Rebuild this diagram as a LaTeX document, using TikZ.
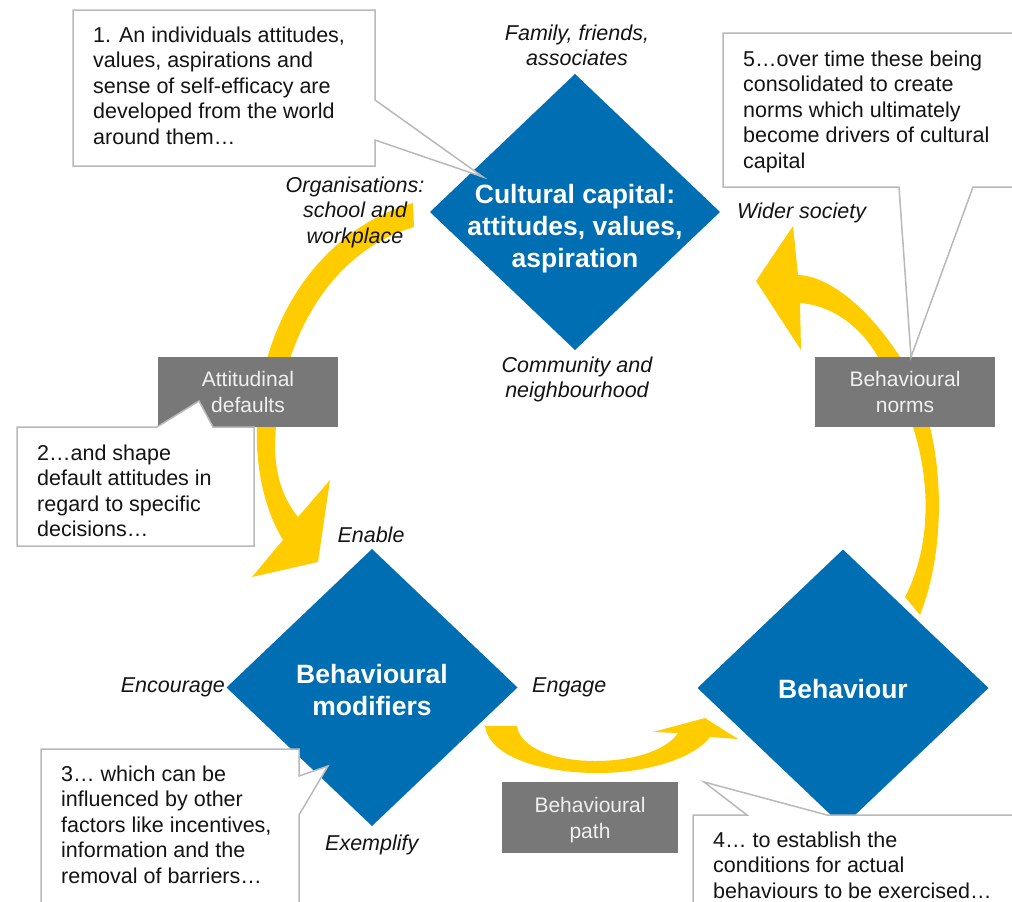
\documentclass[tikz,border=0pt]{standalone}
\usepackage{fontspec}
\setmainfont{Liberation Sans}
\usetikzlibrary{shapes.geometric}
\definecolor{cblue}{RGB}{0,110,178}
\definecolor{cyellow}{RGB}{255,204,0}
\definecolor{cgray}{RGB}{120,120,120}
\definecolor{cline}{RGB}{185,185,185}
\definecolor{ctext}{RGB}{20,20,20}
\begin{document}
\begin{tikzpicture}[x=1pt,y=-1pt,
  dia/.style={shape=diamond, fill=cblue, inner sep=0pt, outer sep=0pt},
  diatext/.style={text=white, font=\fontsize{26.5}{32}\selectfont\bfseries, align=center, anchor=north, inner sep=0pt},
  gbox/.style={fill=cgray, text=white!94!black, font=\fontsize{21}{26}\selectfont, align=center, inner sep=0pt, outer sep=0pt, text depth=0pt},
  callout/.style={fill=white, draw=cline, line width=1.5pt, line join=miter},
  ctxt/.style={text=ctext, font=\fontsize{21.5}{25.5}\selectfont, align=left, anchor=north west, inner sep=0pt},
  lbl/.style={text=ctext, font=\fontsize{21.5}{25.5}\selectfont\itshape, align=center, anchor=north, inner sep=0pt},
  band/.style={fill=cyellow}
]
\clip (0,0) rectangle (1012,902);
\fill[white] (0,0) rectangle (1012,902);

% ---- yellow curved arrows ----
% A: from Cultural capital round to Behavioural modifiers
\fill[band] (413,203) .. controls (320,230) and (262,320) .. (257,420)
  .. controls (255,470) and (265,510) .. (283,540)
  -- (252,577) -- (318,562) -- (330,480) -- (298,517)
  .. controls (282,497) and (272,470) .. (276,427)
  .. controls (285,330) and (335,250) .. (414,227) -- cycle;
% B: behavioural path
\fill[band] (485,726) .. controls (490,760) and (550,773) .. (597,773)
  .. controls (650,773) and (695,757) .. (710,737)
  -- (738,739) -- (705,718) -- (653,732) -- (678,733)
  .. controls (665,752) and (630,761) .. (595,761)
  .. controls (555,761) and (520,748) .. (517,726) -- cycle;
% C: behavioural norms
\fill[band] (920,615) .. controls (950,540) and (945,420) .. (900,357)
  .. controls (870,310) and (830,276) .. (798,275)
  -- (793,226) -- (756,281) -- (801,350) -- (800,303)
  .. controls (830,305) and (860,325) .. (878,357)
  .. controls (930,430) and (940,530) .. (905,597) -- cycle;

% ---- grey boxes ----
\node[gbox, minimum width=180, minimum height=70] (ad) at (248,392) {Attitudinal\\defaults};
\node[gbox, minimum width=180, minimum height=70] (bn) at (905,392) {Behavioural\\norms};
\node[gbox, minimum width=176, minimum height=71] (bp) at (590,817.5) {Behavioural\\path};

% ---- diamonds ----
\node[dia, minimum width=290, minimum height=276] (cc) at (575,212) {};
\node[dia, minimum width=291, minimum height=277] (bm) at (372,687.5) {};
\node[dia, minimum width=291, minimum height=277] (bh) at (843,688) {};
\node[diatext] (cct) at (575,180.6) {\strut Cultural capital:\\attitudes, values,\\aspiration};
\node[diatext] (bmt) at (372,660.6) {\strut Behavioural\\modifiers};
\node[diatext] (bht) at (843,675.6) {\strut Behaviour};

% ---- callouts ----
\draw[callout] (73,10) -- (375,10) -- (375,100) -- (483,177) -- (375,140) -- (375,166) -- (73,166) -- cycle;
\draw[callout] (17,427) -- (157,427) -- (199,401) -- (213,427) -- (254,427) -- (254,546) -- (17,546) -- cycle;
\draw[callout] (41,749) -- (299,749) -- (299,776) -- (328,766) -- (299,815) -- (299,915) -- (41,915) -- cycle;
\draw[callout] (693,815) -- (747,815) -- (704,782) -- (827,815) -- (1020,815) -- (1020,915) -- (693,915) -- cycle;
\draw[callout] (723,33) -- (1020,33) -- (1020,187) -- (973,187) -- (911,357) -- (899,187) -- (723,187) -- cycle;

\node[ctxt] (t1) at (93,24.15) {\strut 1. An individuals attitudes,\\values, aspirations and\\sense of self-efficacy are\\developed from the world\\around them…};
\node[ctxt] (t2) at (37,442.15) {\strut 2…and shape\\default attitudes in\\regard to specific\\decisions…};
\node[ctxt] (t3) at (61,763.15) {\strut 3… which can be\\influenced by other\\factors like incentives,\\information and the\\removal of barriers…};
\node[ctxt] (t4) at (713,829.15) {\strut 4… to establish the\\conditions for actual\\behaviours to be exercised…};
\node[ctxt] (t5) at (743,48.15) {\strut 5…over time these being\\consolidated to create\\norms which ultimately\\become drivers of cultural\\capital};

% ---- italic labels ----
\node[lbl] (l1) at (577,22.15) {\strut Family, friends,\\associates};
\node[lbl] (l2) at (355,174.15) {\strut Organisations:\\school and\\workplace};
\node[lbl, anchor=north west] (l3) at (737,200.15) {\strut Wider society};
\node[lbl] (l4) at (577,354.15) {\strut Community and\\neighbourhood};
\node[lbl] (l5) at (371,524.15) {\strut Enable};
\node[lbl, anchor=north east] (l6) at (225,674.15) {\strut Encourage};
\node[lbl, anchor=north west] (l7) at (532,674.15) {\strut Engage};
\node[lbl, anchor=north west] (l8) at (325,832.15) {\strut Exemplify};
\end{tikzpicture}
\end{document}
